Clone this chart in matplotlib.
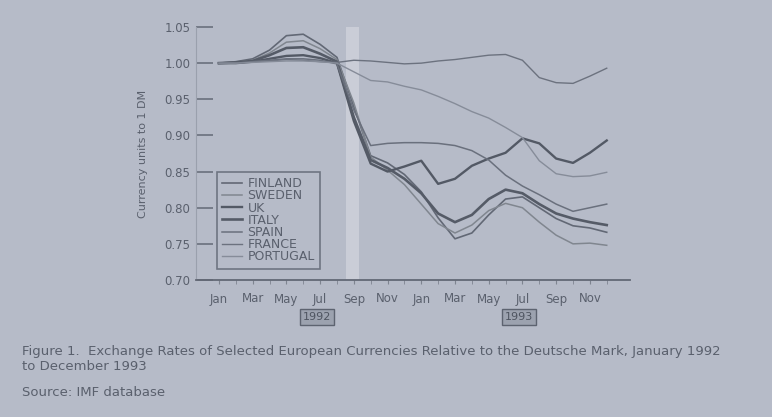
import matplotlib
matplotlib.use("Agg")
import matplotlib.pyplot as plt
from matplotlib.transforms import blended_transform_factory

# ---------------- data ----------------
months = list(range(24))  # Jan 1992 .. Dec 1993
tick_labels = ["Jan", "Mar", "May", "Jul", "Sep", "Nov",
               "Jan", "Mar", "May", "Jul", "Sep", "Nov"]
years = ["1992", "1993"]

finland = [1.000, 1.002, 1.006, 1.018, 1.038, 1.040, 1.026, 1.008, 0.940, 0.872, 0.862, 0.846,
           0.822, 0.786, 0.757, 0.765, 0.790, 0.812, 0.815, 0.800, 0.785, 0.775, 0.772, 0.766]
sweden = [1.000, 1.001, 1.004, 1.014, 1.029, 1.031, 1.020, 1.005, 0.945, 0.870, 0.852, 0.832,
          0.805, 0.778, 0.765, 0.776, 0.796, 0.806, 0.800, 0.780, 0.762, 0.750, 0.751, 0.748]
uk = [1.000, 1.000, 1.002, 1.006, 1.010, 1.011, 1.007, 1.000, 0.920, 0.861, 0.850, 0.857,
      0.865, 0.833, 0.840, 0.858, 0.868, 0.876, 0.896, 0.889, 0.868, 0.862, 0.876, 0.893]
italy = [1.000, 1.001, 1.003, 1.011, 1.021, 1.022, 1.013, 1.002, 0.925, 0.866, 0.855, 0.840,
         0.820, 0.792, 0.780, 0.790, 0.812, 0.825, 0.820, 0.805, 0.792, 0.785, 0.780, 0.776]
spain = [1.000, 1.000, 1.002, 1.004, 1.006, 1.006, 1.004, 0.999, 0.935, 0.886, 0.889, 0.890,
         0.890, 0.889, 0.886, 0.879, 0.866, 0.845, 0.830, 0.818, 0.805, 0.795, 0.800, 0.805]
france = [1.000, 1.000, 1.002, 1.003, 1.005, 1.004, 1.002, 1.001, 1.004, 1.003, 1.001, 0.999,
          1.000, 1.003, 1.005, 1.008, 1.011, 1.012, 1.004, 0.980, 0.973, 0.972, 0.982, 0.993]
portugal = [1.000, 1.000, 1.001, 1.002, 1.003, 1.003, 1.002, 1.000, 0.988, 0.976, 0.974, 0.968,
            0.963, 0.954, 0.944, 0.933, 0.924, 0.911, 0.897, 0.865, 0.847, 0.843, 0.844, 0.849]

series_names = ["FINLAND", "SWEDEN", "UK", "ITALY", "SPAIN", "FRANCE", "PORTUGAL"]
series_values = [finland, sweden, uk, italy, spain, france, portugal]

# ---------------- style ----------------
BG = "#b6bbc8"
TXT = "#5a606d"
styles = [
    dict(color="#626875", lw=1.2),
    dict(color="#80868f", lw=1.1),
    dict(color="#535965", lw=1.7),
    dict(color="#555b67", lw=1.9),
    dict(color="#6a707d", lw=1.1),
    dict(color="#6c727f", lw=1.0),
    dict(color="#868c99", lw=1.0),
]

fig = plt.figure(figsize=(7.72, 4.17), dpi=100, facecolor=BG)
W, H = 772, 417
ax_left, ax_right, ax_top, ax_bottom = 196, 630, 27, 280
ax = fig.add_axes([ax_left / W, 1 - ax_bottom / H,
                   (ax_right - ax_left) / W, (ax_bottom - ax_top) / H])
ax.set_facecolor(BG)

# light vertical band (September 1992)
ax.axvspan(7.55, 8.3, color="white", alpha=0.28, lw=0)

for name, vals, st in zip(series_names, series_values, styles):
    ax.plot(months, vals, label=name, solid_joinstyle="round", **st)

ax.set_xlim(-1.36, 24.38)
ax.set_ylim(0.70, 1.05)

yt = [0.70, 0.75, 0.80, 0.85, 0.90, 0.95, 1.00, 1.05]
ax.set_yticks(yt)
ax.set_yticklabels([f"{v:.2f}" for v in yt], fontsize=8.5, color=TXT)
ax.tick_params(axis="y", direction="in", length=12, width=1.2, color="#6a707d", pad=4)

ax.set_xticks(months[::2])
ax.set_xticklabels(tick_labels, fontsize=8.5, color=TXT)
ax.set_xticks(months, minor=True)
ax.tick_params(axis="x", which="both", direction="out", length=3, color="#7e8490", pad=6)

for s in ["top", "right"]:
    ax.spines[s].set_visible(False)
ax.spines["left"].set_color("#9aa0ad")
ax.spines["left"].set_linewidth(0.8)
ax.spines["bottom"].set_color("#626875")
ax.spines["bottom"].set_linewidth(1.3)

ax.set_ylabel("Currency units to 1 DM", fontsize=8, color=TXT, labelpad=12)

# year labels in boxes
tr = blended_transform_factory(ax.transData, ax.transAxes)
for xm, yr in zip([5.8, 17.8], years):
    ax.text(xm, -0.146, yr, transform=tr, ha="center", va="center",
            fontsize=8, color="#4e5460",
            bbox=dict(boxstyle="square,pad=0.25", facecolor="#9ca2af",
                      edgecolor="#5d6370", lw=1.0))

leg = ax.legend(loc="upper left", bbox_to_anchor=(217 / W, 1 - 172 / H),
                bbox_transform=fig.transFigure, frameon=True, fancybox=False,
                fontsize=9, labelspacing=-0.06, handlelength=1.6,
                handletextpad=0.45, borderpad=0.4, borderaxespad=0)
leg.get_frame().set_facecolor(BG)
leg.get_frame().set_edgecolor("#5d6370")
leg.get_frame().set_linewidth(1.2)
for t in leg.get_texts():
    t.set_color(TXT)

fig.text(22 / W, 1 - 352 / H,
         "Figure 1.  Exchange Rates of Selected European Currencies Relative to the Deutsche Mark, January 1992",
         fontsize=9.5, color=TXT, va="center", ha="left")
fig.text(22 / W, 1 - 367 / H, "to December 1993", fontsize=9.5, color=TXT,
         va="center", ha="left")
fig.text(22 / W, 1 - 393 / H, "Source: IMF database", fontsize=9.5, color=TXT,
         va="center", ha="left")

fig.savefig("out.png", dpi=100, facecolor=BG)
